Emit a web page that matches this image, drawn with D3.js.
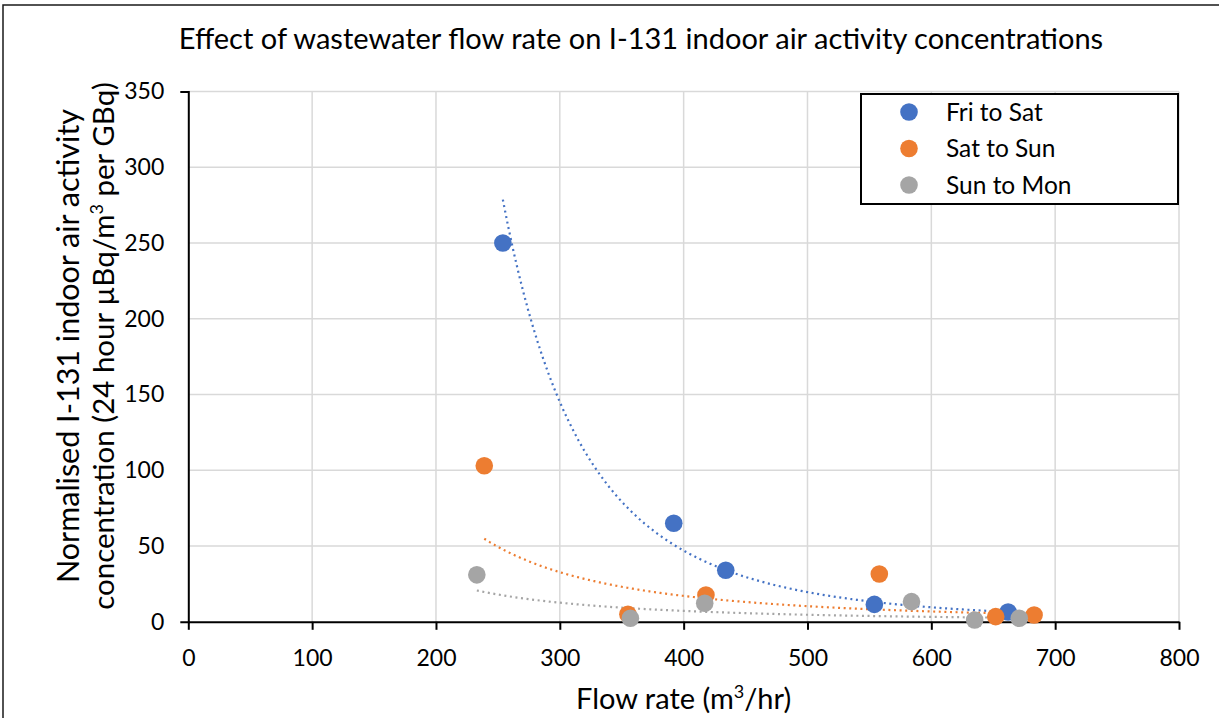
<!DOCTYPE html>
<html>
<head>
<meta charset="utf-8">
<script src="https://d3js.org/d3.v7.min.js"></script>
<style>
	body { margin: 0; background: #fff; }
	text { font-family: Lato, "Open Sans", sans-serif; fill: #000; }
</style>
</head>
<body>
<div class="container"></div>
<script>

// values
var seriesNames = ["Fri to Sat", "Sat to Sun", "Sun to Mon"];
var seriesColors = ["#4472c4", "#ed7d31", "#a5a5a5"];

var friFlow = [254, 392, 434, 554, 662];
var friConc = [250, 65, 34, 11.5, 6.5];

var satFlow = [239, 355, 418, 558, 652, 683];
var satConc = [103, 5, 17.7, 31.5, 3.4, 4.5];

var sunFlow = [233, 357, 417, 584, 635, 671];
var sunConc = [31, 2.3, 12.2, 13.3, 1.2, 2.3];

var xTicks = [0, 100, 200, 300, 400, 500, 600, 700, 800];
var yTicks = [0, 50, 100, 150, 200, 250, 300, 350];

var W = 1222, H = 718;

function makeStage(w, h) {
	var stage = d3.select(".container")
				  .append("svg")
				  .attr("width", w)
				  .attr("height", h);
	return stage;
}

// power trendline, least squares on ln x / ln y (like Excel)
function powerFit(xs, ys) {
	var lx = xs.map(Math.log), ly = ys.map(Math.log);
	var mx = d3.mean(lx), my = d3.mean(ly);
	var sxy = d3.sum(lx, function (v, i) { return (v - mx) * (ly[i] - my); });
	var sxx = d3.sum(lx, function (v) { return (v - mx) * (v - mx); });
	var b = sxy / sxx;
	var a = Math.exp(my - b * mx);
	return function (x) { return a * Math.pow(x, b); };
}

var stage = makeStage(W, H);

// outer chart frame
stage.append("path")
	 .attr("d", "M1219,5 L3,5 L3," + (H + 5))
	 .style("fill", "none")
	 .style("stroke", "#1a1a1a")
	 .style("stroke-width", "1.5px");

var x = d3.scaleLinear().domain([0, 800]).range([188.3, 1179]);
var y = d3.scaleLinear().domain([0, 350]).range([621.8, 91.5]);

// gridlines
stage.append("g").selectAll("line.v")
	 .data(xTicks.slice(1))
	 .join("line")
	 .attr("x1", function (d) { return x(d); })
	 .attr("x2", function (d) { return x(d); })
	 .attr("y1", y(0))
	 .attr("y2", y(350))
	 .style("stroke", "#d9d9d9")
	 .style("stroke-width", "1.5px");

stage.append("g").selectAll("line.h")
	 .data(yTicks.slice(1))
	 .join("line")
	 .attr("x1", x(0))
	 .attr("x2", x(800))
	 .attr("y1", function (d) { return y(d); })
	 .attr("y2", function (d) { return y(d); })
	 .style("stroke", "#d9d9d9")
	 .style("stroke-width", "1.5px");

// x axis
var xAxis = d3.axisBottom(x)
			  .tickValues(xTicks)
			  .tickSizeInner(8)
			  .tickSizeOuter(0)
			  .tickPadding(20);
var gx = stage.append("g")
			  .attr("transform", "translate(0," + y(0) + ")")
			  .call(xAxis);
gx.select(".domain").style("stroke", "#000").style("stroke-width", "2px");
gx.selectAll(".tick line").style("stroke", "#000").style("stroke-width", "2px");
gx.selectAll(".tick text")
  .style("font-family", "Lato, sans-serif")
  .style("font-size", "23px")
  .attr("fill", "#000");

// y axis, only end ticks drawn as in the original
var yAxis = d3.axisLeft(y)
			  .tickValues(yTicks)
			  .tickSizeInner(0)
			  .tickSizeOuter(8)
			  .tickPadding(24);
var gy = stage.append("g")
			  .attr("transform", "translate(" + x(0) + ",0)")
			  .call(yAxis);
gy.select(".domain").style("stroke", "#000").style("stroke-width", "2px");
gy.selectAll(".tick text")
  .style("font-family", "Lato, sans-serif")
  .style("font-size", "23px")
  .attr("fill", "#000");

// trendlines then markers
var flows = [friFlow, satFlow, sunFlow];
var concs = [friConc, satConc, sunConc];

var line = d3.line()
			 .x(function (d) { return x(d[0]); })
			 .y(function (d) { return y(d[1]); });

flows.forEach(function (fl, i) {
	var f = powerFit(fl, concs[i]);
	var lo = d3.min(fl), hi = d3.max(fl);
	var pts = d3.range(0, 101).map(function (k) {
		var xv = lo + (hi - lo) * k / 100;
		return [xv, f(xv)];
	});
	stage.append("path")
		 .attr("d", line(pts))
		 .style("fill", "none")
		 .style("stroke", seriesColors[i])
		 .style("stroke-width", "2.2px")
		 .style("stroke-dasharray", "2,3.6");
});

flows.forEach(function (fl, i) {
	stage.append("g").selectAll("circle")
		 .data(fl)
		 .join("circle")
		 .attr("cx", function (d) { return x(d); })
		 .attr("cy", function (d, k) { return y(concs[i][k]); })
		 .attr("r", 8.8)
		 .style("fill", seriesColors[i]);
});

// title
stage.append("text")
	 .attr("x", 641)
	 .attr("y", 49)
	 .attr("text-anchor", "middle")
	 .style("font-size", "29px")
	 .text("Effect of wastewater flow rate on I-131 indoor air activity concentrations");

// x axis title
var xt = stage.append("text")
			  .attr("x", (x(0) + x(800)) / 2)
			  .attr("y", 709)
			  .attr("text-anchor", "middle")
			  .style("font-size", "29px");
xt.append("tspan").text("Flow rate (m");
xt.append("tspan").attr("dy", -11).style("font-size", "18px").text("3");
xt.append("tspan").attr("dy", 11).text("/hr)");

// y axis title, two lines
var yt = stage.append("g")
			  .attr("transform", "translate(0,346) rotate(-90)");
yt.append("text")
  .attr("x", 0)
  .attr("y", 79)
  .attr("text-anchor", "middle")
  .style("font-size", "30.5px")
  .text("Normalised I-131 indoor air activity");
var yt2 = yt.append("text")
			.attr("x", 0)
			.attr("y", 114)
			.attr("text-anchor", "middle")
			.style("font-size", "29.5px");
yt2.append("tspan").text("concentration (24 hour \u00b5Bq/m");
yt2.append("tspan").attr("dy", -11).style("font-size", "18px").text("3");
yt2.append("tspan").attr("dy", 11).text(" per GBq)");

// legend
var lg = stage.append("g");
lg.append("rect")
  .attr("x", 861)
  .attr("y", 94)
  .attr("width", 317)
  .attr("height", 110)
  .style("fill", "#fff")
  .style("stroke", "#000")
  .style("stroke-width", "2px");

seriesNames.forEach(function (name, i) {
	var cy = 112 + i * 36.5;
	lg.append("circle")
	  .attr("cx", 909)
	  .attr("cy", cy)
	  .attr("r", 8.8)
	  .style("fill", seriesColors[i]);
	lg.append("text")
	  .attr("x", 946)
	  .attr("y", cy + 8.5)
	  .style("font-size", "24.5px")
	  .text(name);
});

</script>
</body>
</html>
